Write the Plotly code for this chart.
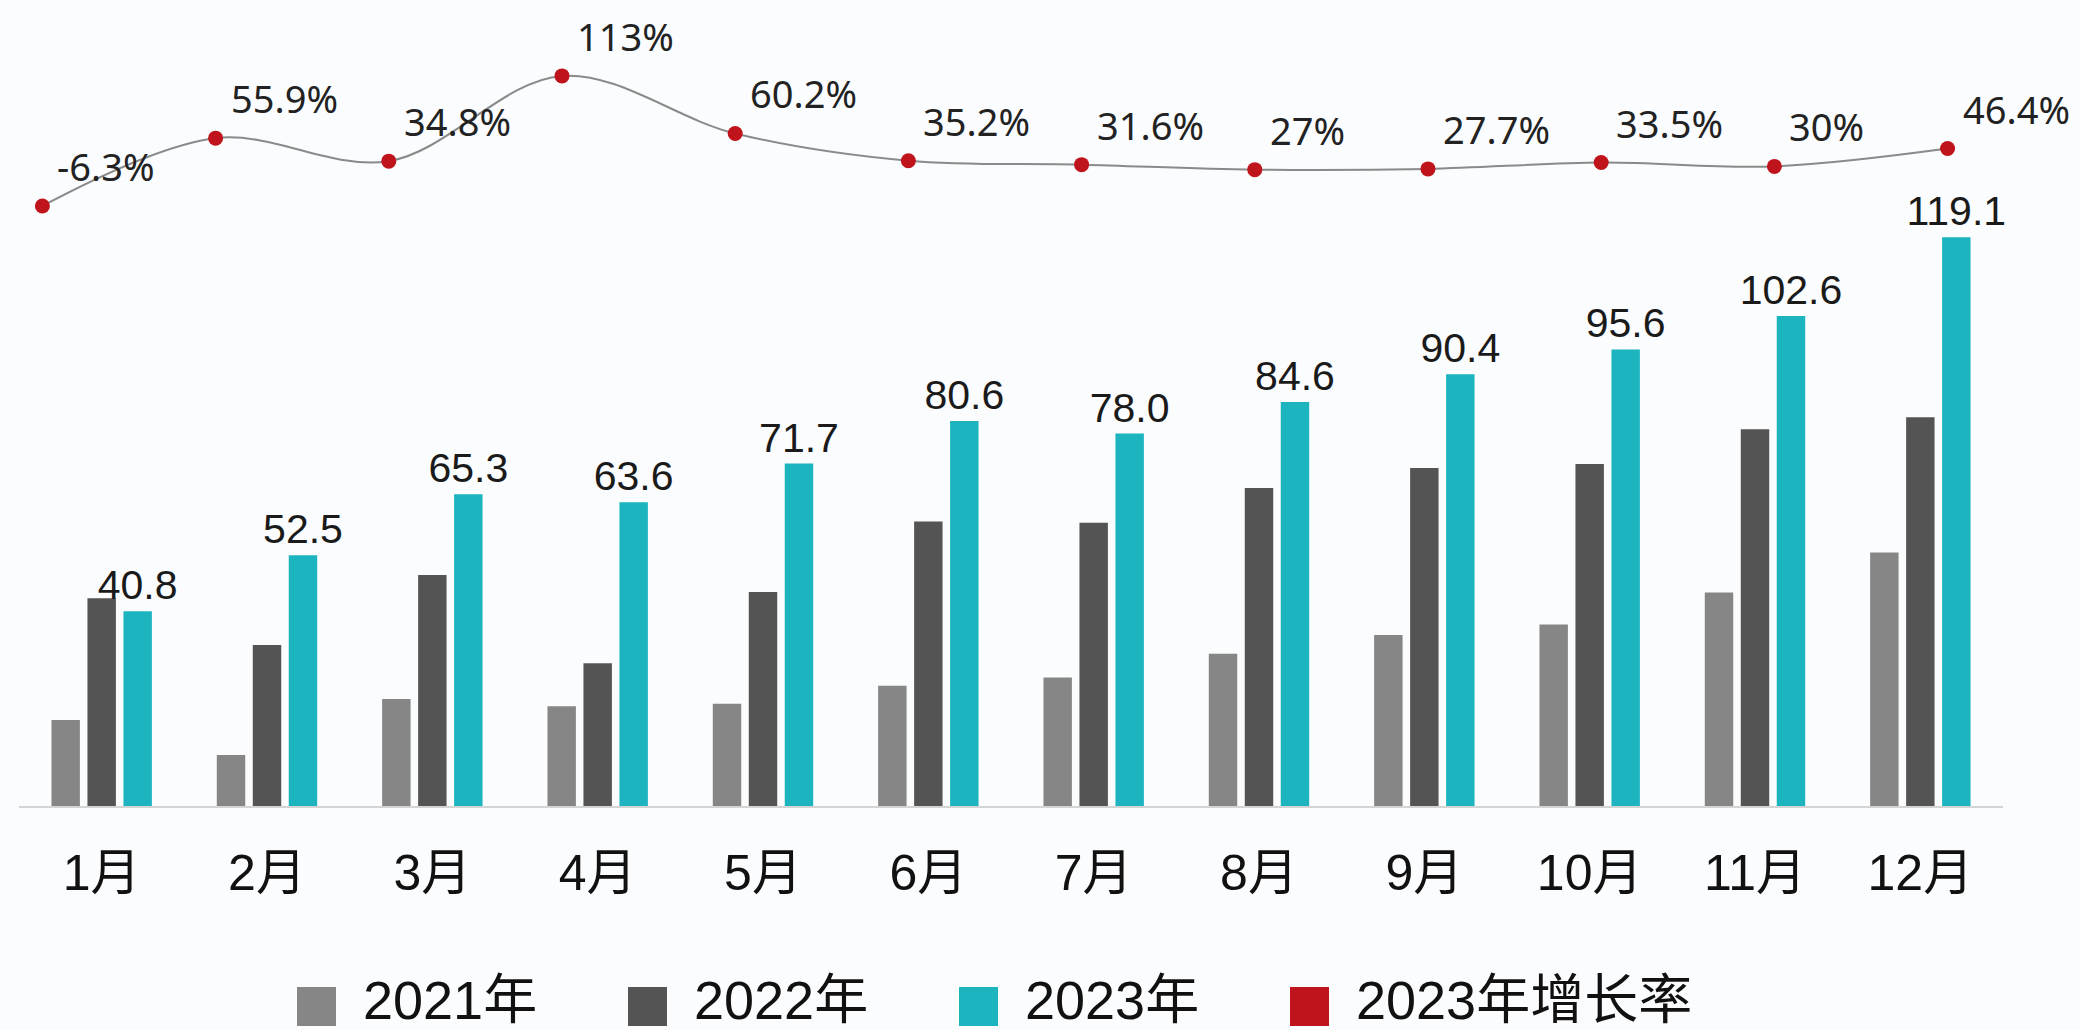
import plotly.graph_objects as go

# ---------------- data ----------------
months = ["1月", "2月", "3月", "4月", "5月", "6月", "7月", "8月", "9月", "10月", "11月", "12月"]
sales_2021 = [18.0, 10.7, 22.4, 20.9, 21.4, 25.2, 26.9, 31.9, 35.8, 38.0, 44.7, 53.1]
sales_2022 = [43.5, 33.7, 48.4, 29.9, 44.8, 59.6, 59.3, 66.6, 70.8, 71.6, 78.9, 81.4]
sales_2023 = [40.8, 52.5, 65.3, 63.6, 71.7, 80.6, 78.0, 84.6, 90.4, 95.6, 102.6, 119.1]
growth_2023 = [-6.3, 55.9, 34.8, 113, 60.2, 35.2, 31.6, 27, 27.7, 33.5, 30, 46.4]
series_names = ["2021年", "2022年", "2023年", "2023年增长率"]

# ---------------- style ----------------
colors = ["#868686", "#545454", "#1bb4bf", "#c0141c"]
line_color = "#8a8a8a"
bg = "#fafcfd"
latin = "Liberation Sans, Arial, Noto Sans CJK SC"
W, H = 2080, 1030
ML, MR, MT, MB = 19, 77, 20, 224
PW, PH = W - ML - MR, H - MT - MB

fig = go.Figure()
for name, vals, col in zip(series_names[:3], [sales_2021, sales_2022, sales_2023], colors[:3]):
    is_last = name == series_names[2]
    fig.add_trace(go.Bar(
        x=months, y=vals, name=name, marker=dict(color=col, line=dict(width=0)),
        text=[f"{v:.1f}" for v in vals] if is_last else None,
        textposition="outside" if is_last else "none",
        constraintext="none", cliponaxis=False,
        textfont=dict(family=latin, size=41, color="#1a1a1a"),
        showlegend=False,
    ))

fig.add_trace(go.Scatter(
    x=months, y=growth_2023, name=series_names[3], xaxis="x2", yaxis="y2",
    mode="lines+markers",
    line=dict(color=line_color, width=2, shape="spline", smoothing=1.0),
    marker=dict(color=colors[3], size=15, line=dict(width=0)),
    cliponaxis=False, showlegend=False,
))

annotations = []
# growth-rate labels, attached to the line's own axes
for m, g in zip(months, growth_2023):
    annotations.append(dict(xref="x2", yref="y2", x=m, y=g, text=f"{g:g}%", showarrow=False,
                            xanchor="left", yanchor="bottom", xshift=13, yshift=12,
                            font=dict(family="Noto Sans, Noto Sans CJK SC", size=38, color="#222222")))

# ---------------- manual legend (large square swatches) ----------------
def px_x(p):
    return (p - ML) / PW

def px_y(p):
    return (H - MB - p) / PH

shapes = []
leg_x0, leg_step, sw, leg_top = 297, 331, 39, 987
for i, (name, col) in enumerate(zip(series_names, colors)):
    x0 = leg_x0 + i * leg_step
    shapes.append(dict(type="rect", xref="paper", yref="paper",
                       x0=px_x(x0), x1=px_x(x0 + sw), y0=px_y(leg_top), y1=px_y(leg_top + sw),
                       fillcolor=col, line=dict(width=0), layer="above"))
    annotations.append(dict(xref="paper", yref="paper", x=px_x(x0 + 64), y=px_y(1000),
                            text=name, showarrow=False, xanchor="left", yanchor="middle",
                            font=dict(family=latin, size=54, color="#111111")))

fig.update_layout(
    width=W, height=H,
    margin=dict(l=ML, r=MR, t=MT, b=MB, pad=0),
    paper_bgcolor=bg, plot_bgcolor=bg,
    barmode="group", bargap=0.347, bargroupgap=0.21,
    showlegend=False,
    xaxis=dict(type="category", range=[-0.5, 11.5], showline=True, linecolor="#d4d4d4",
               linewidth=2, ticks="", showgrid=False, zeroline=False, automargin=False,
               tickfont=dict(family=latin, size=50, color="#111111"), ticklabelstandoff=22),
    yaxis=dict(range=[0, 164.6], visible=False, automargin=False),
    xaxis2=dict(type="category", overlaying="x", anchor="y2", range=[-0.135, 11.32], visible=False),
    yaxis2=dict(overlaying="y", anchor="x2", range=[-556.8, 164.3], visible=False),
    shapes=shapes, annotations=annotations,
)

fig.write_html("out.html", config={"displayModeBar": False},
               post_script="document.body.style.margin='0px';document.body.style.overflow='hidden';")
